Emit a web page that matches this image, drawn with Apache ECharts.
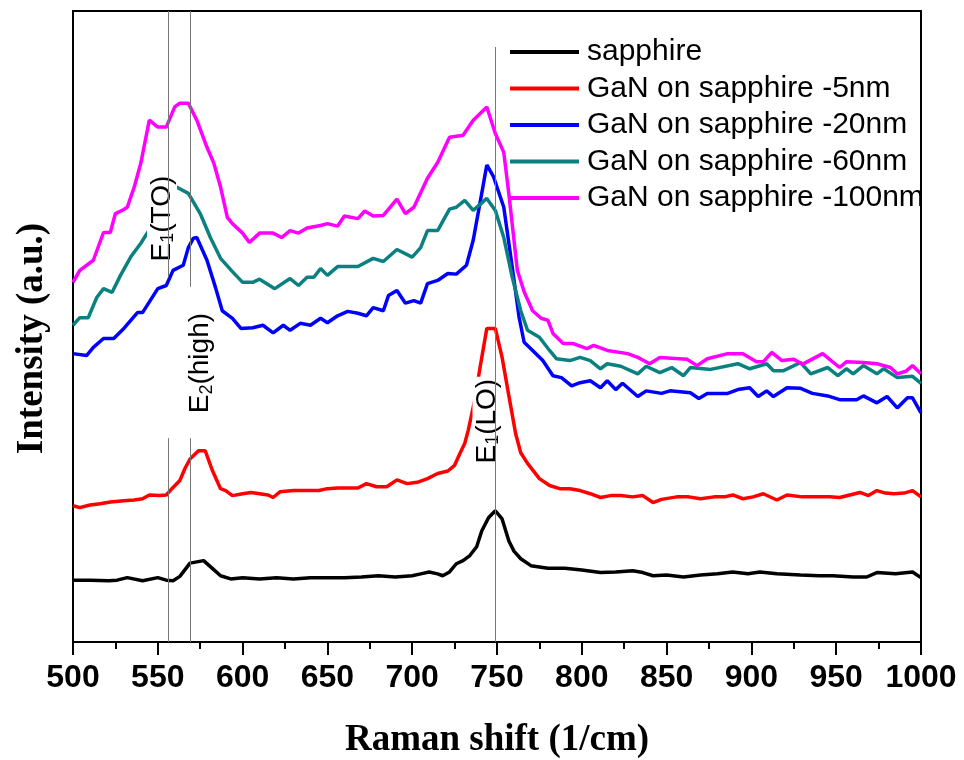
<!DOCTYPE html>
<html>
<head>
<meta charset="utf-8">
<script src="https://cdn.jsdelivr.net/npm/echarts@6/dist/echarts.min.js"></script>
<style>
  html, body { margin: 0; background: #fff; }
  #chart { width: 964px; height: 760px; }
</style>
</head>
<body>
<div id="chart"></div>
<script>
// Raman spectra, [shift (1/cm), intensity (a.u.)]
const sapphire = [[500,9.8],[510,9.8],[521,9.7],[526,9.8],[532,10.2],[541,9.7],[550,10.2],[555,9.8],[559,9.7],[563,10.4],[569,12.5],[577,12.9],[582,11.7],[587,10.5],[593,10.0],[600,10.2],[610,10.0],[620,10.2],[630,10.0],[640,10.2],[650,10.2],[660,10.2],[670,10.3],[680,10.5],[690,10.3],[700,10.5],[705,10.8],[710,11.1],[715,10.8],[718,10.5],[722,11.1],[726,12.4],[730,12.9],[734,13.7],[738,15.1],[741,17.6],[745,19.7],[749,20.8],[753,19.5],[757,16.0],[760,14.4],[764,13.2],[770,12.1],[780,11.7],[790,11.7],[800,11.4],[811,11.0],[820,11.1],[830,11.3],[836,11.0],[842,10.5],[850,10.6],[860,10.3],[870,10.6],[880,10.8],[889,11.1],[898,10.8],[905,11.1],[915,10.8],[929,10.6],[940,10.5],[948,10.5],[960,10.3],[968,10.3],[974,11.0],[985,10.8],[995,11.1],[1000,10.2]];

const gan5 = [[500,21.6],[504,21.3],[510,21.7],[516,21.9],[522,22.2],[530,22.4],[536,22.5],[541,22.7],[545,23.3],[551,23.2],[555,23.3],[559,24.5],[563,25.6],[566,27.5],[569,29.0],[574,30.3],[578,30.3],[582,27.3],[587,24.3],[590,24.0],[594,23.2],[600,23.5],[605,23.7],[610,23.5],[615,23.3],[618,22.9],[622,23.8],[630,24.0],[640,24.0],[645,24.0],[650,24.3],[656,24.4],[662,24.4],[668,24.4],[673,25.1],[679,24.6],[685,24.6],[691,25.7],[697,25.1],[703,25.3],[709,25.9],[715,26.7],[721,27.1],[725,28.0],[728,29.8],[731,31.5],[733,33.5],[737,38.5],[740,43.5],[744,49.7],[749,49.7],[753,45.1],[757,39.0],[761,33.0],[764,30.0],[768,28.3],[775,25.9],[781,24.8],[787,24.3],[793,24.3],[799,24.0],[805,23.5],[811,22.9],[817,23.2],[823,23.2],[830,23.0],[836,23.2],[842,22.1],[847,22.6],[856,23.0],[863,23.0],[870,22.7],[878,23.0],[884,23.0],[889,23.3],[895,22.7],[901,23.0],[907,23.5],[915,22.5],[921,23.3],[930,23.0],[939,23.0],[946,23.0],[952,22.9],[958,23.3],[964,23.7],[969,23.2],[974,24.0],[979,23.6],[984,23.5],[990,23.6],[995,24.0],[1000,23.0]];

const gan20 = [[500,45.7],[508,45.4],[512,46.7],[518,48.1],[524,48.1],[530,49.7],[538,52.2],[541,52.2],[550,56.0],[555,56.5],[559,58.9],[565,59.7],[568,62.5],[571,64.0],[573,64.1],[579,60.5],[584,56.2],[588,52.5],[594,51.3],[599,49.7],[606,49.8],[612,50.2],[618,49.0],[624,50.2],[628,49.4],[634,50.5],[640,50.2],[646,51.3],[650,50.6],[656,51.7],[662,52.4],[668,52.1],[673,51.7],[677,53.0],[683,52.5],[686,54.9],[691,55.7],[696,53.7],[701,54.1],[705,53.7],[709,56.8],[715,57.3],[721,58.4],[726,58.3],[732,59.7],[736,63.7],[741,71.1],[744,75.6],[748,73.7],[754,68.9],[759,59.4],[763,51.5],[766,47.5],[771,46.2],[777,44.6],[783,42.2],[788,41.9],[794,40.6],[799,41.1],[805,41.4],[811,40.3],[815,41.4],[820,40.0],[824,41.0],[833,38.9],[838,39.8],[847,39.4],[852,39.8],[864,39.5],[869,38.6],[874,39.4],[886,39.4],[892,40.0],[899,40.3],[904,38.9],[909,39.8],[913,38.9],[921,40.3],[929,40.2],[936,39.4],[945,39.0],[952,38.4],[962,38.4],[966,39.0],[974,37.9],[980,38.9],[986,37.1],[992,38.7],[995,38.7],[1000,36.3]];

const gan60 = [[500,50.2],[504,51.4],[509,51.4],[514,54.6],[518,56.0],[523,55.4],[528,58.1],[534,61.0],[540,63.2],[544,64.9],[550,67.5],[556,70.5],[561,72.1],[568,71.1],[575,67.9],[581,64.1],[587,60.8],[594,58.7],[600,57.0],[606,57.0],[610,57.5],[619,56.0],[628,57.6],[633,56.5],[638,57.8],[642,57.8],[646,59.2],[650,58.1],[656,59.5],[668,59.5],[677,60.8],[683,60.3],[691,62.2],[700,61.0],[705,62.5],[709,65.2],[715,65.2],[722,68.6],[726,68.9],[731,70.0],[736,68.4],[744,70.3],[749,68.4],[754,64.1],[759,57.8],[764,52.5],[768,49.4],[775,48.3],[781,46.2],[785,44.9],[793,44.6],[799,45.1],[805,44.6],[811,43.3],[815,44.1],[823,43.7],[833,42.5],[838,43.7],[846,42.7],[853,43.5],[860,42.2],[864,43.5],[876,43.2],[892,44.1],[899,43.3],[909,44.1],[913,43.0],[919,43.0],[929,44.3],[935,42.5],[945,43.5],[951,42.2],[956,43.3],[960,42.5],[966,43.8],[974,42.5],[978,43.3],[986,41.9],[995,42.1],[1000,41.0]];

const gan100 = [[500,57.0],[504,58.9],[512,60.5],[518,64.9],[522,64.9],[525,67.9],[529,68.4],[532,68.9],[536,72.0],[540,75.9],[545,82.7],[550,81.6],[555,81.6],[560,84.8],[563,85.4],[568,85.4],[573,82.7],[579,78.4],[583,75.9],[587,72.1],[591,67.3],[594,66.3],[600,64.8],[604,63.3],[610,64.8],[618,64.8],[623,64.1],[628,65.2],[633,64.8],[638,65.6],[646,66.0],[650,66.3],[656,65.9],[660,67.5],[668,67.1],[672,68.3],[677,67.5],[683,67.6],[691,70.2],[696,67.9],[701,68.9],[709,73.5],[715,76.0],[722,80.0],[730,80.3],[736,82.7],[744,84.8],[749,80.6],[754,77.6],[757,71.0],[762,58.9],[766,55.5],[771,52.5],[776,51.3],[780,51.0],[783,48.9],[789,47.3],[795,47.3],[803,46.5],[807,47.0],[815,46.2],[827,45.7],[833,45.1],[840,44.1],[846,45.1],[862,44.8],[868,43.8],[874,44.9],[886,45.7],[895,45.7],[903,44.4],[907,44.4],[912,45.9],[918,44.6],[925,44.8],[930,44.0],[942,45.7],[952,43.5],[956,44.4],[966,44.3],[974,44.1],[982,43.5],[986,42.5],[991,42.9],[995,43.8],[1000,42.5]];

const seriesNames = ['sapphire', 'GaN on sapphire -5nm', 'GaN on sapphire -20nm', 'GaN on sapphire -60nm', 'GaN on sapphire -100nm'];
const seriesColors = ['#000000', '#ff0000', '#0000ff', '#0a8080', '#ff00ff'];
const seriesData = [sapphire, gan5, gan20, gan60, gan100];

// phonon mode positions and the vertical guide segments [shift, from, to]
const peakSegments = [[556, 57.8, 100], [556, 0, 32.3], [569, 56.3, 100], [569, 0, 32.3], [749, 0, 94.3]];
const modeLabels = ['{a|E}{s|1}{a|(TO)}', '{a|E}{s|2}{a|(high)}', '{a|E}{s|1}{a|(LO)}'];
const modeLabelX = [552.5, 575.2, 744.4];
const modeLabelY = [67.1, 44.2, 35.0];

const labelRich = {
  a: { fontFamily: 'Liberation Sans', fontSize: 28, lineHeight: 30, fill: '#000' },
  s: { fontFamily: 'Liberation Sans', fontSize: 18, lineHeight: 18, verticalAlign: 'bottom', fill: '#000' }
};

const chart = echarts.init(document.getElementById('chart'));

const allSeries = seriesData.map((d, i) => ({
  name: seriesNames[i],
  type: 'line',
  data: d,
  symbol: 'none',
  z: 2,
  lineStyle: { color: seriesColors[i], width: 3.5 },
  itemStyle: { color: seriesColors[i] }
}));

// mode labels, white boxed so they cut through the curves like the original
allSeries.push({
  type: 'custom',
  z: 4,
  silent: true,
  data: modeLabelX.map((x, i) => [x, modeLabelY[i]]),
  renderItem: (params, api) => {
    const p = api.coord([api.value(0), api.value(1)]);
    return {
      type: 'text',
      x: p[0],
      y: p[1],
      rotation: Math.PI / 2,
      style: {
        text: modeLabels[params.dataIndex],
        rich: labelRich,
        fill: '#000',
        align: 'center',
        verticalAlign: 'middle',
        backgroundColor: '#fff',
        padding: [0, 2]
      }
    };
  }
});

allSeries.push({
  type: 'line',
  data: [],
  z: 6,
  markLine: {
    z: 6,
    silent: true,
    symbol: ['none', 'none'],
    label: { show: false },
    lineStyle: { color: '#777', width: 1, type: 'solid' },
    data: peakSegments.map(s => [{ coord: [s[0], s[1]] }, { coord: [s[0], s[2]] }])
  }
});

chart.setOption({
  animation: false,
  grid: {
    left: 73, right: 43, top: 11, bottom: 118,
    outerBoundsMode: 'none',
    show: true, borderColor: '#000', borderWidth: 2
  },
  legend: {
    data: seriesNames,
    orient: 'vertical',
    left: 510,
    top: 37,
    padding: 0,
    icon: 'rect',
    itemWidth: 69,
    itemHeight: 4,
    itemGap: 6.5,
    textStyle: { fontFamily: 'Liberation Sans', fontSize: 30, lineHeight: 30, color: '#000', padding: [0, 0, 0, 3] }
  },
  xAxis: {
    type: 'value',
    min: 500,
    max: 1000,
    interval: 50,
    name: 'Raman shift (1/cm)',
    nameLocation: 'middle',
    nameGap: 80,
    nameTextStyle: { fontFamily: 'Liberation Serif', fontWeight: 'bold', fontSize: 37, color: '#000' },
    axisLine: { lineStyle: { color: '#000', width: 2 } },
    axisTick: { length: 13, lineStyle: { color: '#000', width: 2 } },
    minorTick: { show: true, splitNumber: 2, length: 7, lineStyle: { color: '#000', width: 2 } },
    axisLabel: {
      margin: 20,
      fontFamily: 'Liberation Sans',
      fontWeight: 'bold',
      fontSize: 32,
      color: '#000',
      formatter: v => String(v)
    },
    splitLine: { show: false }
  },
  yAxis: {
    type: 'value',
    min: 0,
    max: 100,
    name: 'Intensity (a.u.)',
    nameLocation: 'middle',
    nameGap: 22,
    nameTextStyle: { fontFamily: 'Liberation Serif', fontWeight: 'bold', fontSize: 37, color: '#000', padding: [0, 24, 0, 0] },
    axisLine: { show: true, lineStyle: { color: '#000', width: 2 } },
    axisTick: { show: false },
    axisLabel: { show: false },
    splitLine: { show: false }
  },
  series: allSeries
});
</script>
</body>
</html>
